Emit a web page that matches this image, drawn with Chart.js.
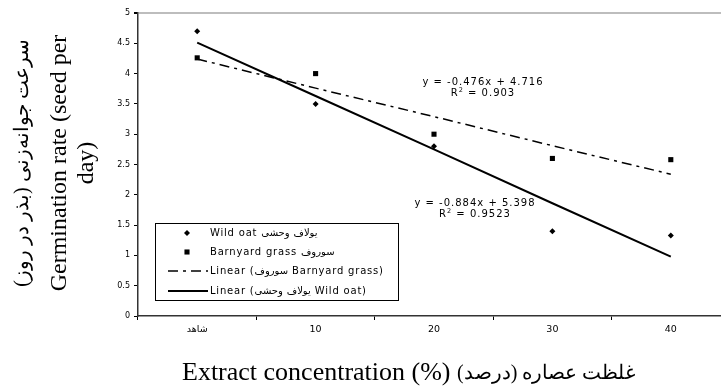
<!DOCTYPE html>
<html lang="fa">
<head>
<meta charset="UTF-8">
<title>Germination rate</title>
<script src="https://cdn.jsdelivr.net/npm/chart.js"></script>
<style>
  html, body { margin: 0; padding: 0; background: #fff; overflow: hidden; }
  #wrap { width: 734px; height: 389px; }
</style>
</head>
<body>
<div id="wrap"><canvas id="chart" width="734" height="389"></canvas></div>
<script>
// data
const categories = ['شاهد', '10', '20', '30', '40'];
const wildOat = [4.7, 3.5, 2.8, 1.4, 1.33];
const barnyard = [4.26, 4.0, 3.0, 2.6, 2.58];
// trend lines as drawn (Excel linear fits)
const barnyardTrend = [4.24, 3.76, 3.29, 2.81, 2.34];
const wildOatTrend = [4.51, 3.63, 2.75, 1.86, 0.98];

const seriesLabels = [
  'Wild oat یولاف وحشی',
  'Barnyard grass سوروف',
  'Linear (سوروف Barnyard grass)',
  'Linear (یولاف وحشی Wild oat)'
];
const equations = [
  { eq: 'y = -0.476x + 4.716', r2: '0.903', x: 483, y: 82 },
  { eq: 'y = -0.884x + 5.398', r2: '0.9523', x: 475, y: 203 }
];
const yTitle = ['سرعت جوانه‌زنی (بذر در روز)', 'Germination rate (seed per', 'day)'];
const xTitleEn = 'Extract concentration (%)';
const xTitleFa = 'غلظت عصاره (درصد)';

const smallFont = '"DejaVu Sans", Arial, sans-serif';
const serifFont = '"Liberation Serif", "Times New Roman", serif';

// legend box inside the plot, like the Excel original
const boxLegend = {
  id: 'boxLegend',
  afterDraw(chart) {
    const ctx = chart.ctx;
    const x0 = 155, y0 = 223, w = 243, h = 77;
    const rows = [233, 252, 271, 291];
    ctx.save();
    ctx.fillStyle = '#fff';
    ctx.fillRect(x0, y0, w, h);
    ctx.strokeStyle = '#000';
    ctx.lineWidth = 1;
    ctx.strokeRect(x0 + 0.5, y0 + 0.5, w, h);
    chart.data.datasets.forEach((ds, i) => {
      const y = rows[i];
      ctx.fillStyle = '#000';
      ctx.strokeStyle = '#000';
      if (ds.showLine === false) {
        const r = ds.pointRadius;
        ctx.beginPath();
        if (ds.pointStyle === 'rectRot') {
          ctx.moveTo(187 - r, y); ctx.lineTo(187, y - r);
          ctx.lineTo(187 + r, y); ctx.lineTo(187, y + r);
        } else {
          const s = r * Math.SQRT1_2;
          ctx.rect(187 - s, y - s, 2 * s, 2 * s);
        }
        ctx.closePath();
        ctx.fill();
      } else {
        ctx.lineWidth = ds.borderWidth;
        ctx.setLineDash(ds.borderDash || []);
        ctx.beginPath();
        ctx.moveTo(168, y); ctx.lineTo(208, y);
        ctx.stroke();
        ctx.setLineDash([]);
      }
      ctx.font = '10px ' + smallFont;
      ctx.letterSpacing = '0.8px';
      ctx.textBaseline = 'middle';
      ctx.textAlign = 'left';
      ctx.direction = 'ltr';
      ctx.fillText(ds.label, 210, y);
    });
    ctx.restore();
  }
};

// trend equations and axis titles
const annotations = {
  id: 'annotations',
  afterDraw(chart) {
    const ctx = chart.ctx;
    ctx.save();
    ctx.fillStyle = '#000';
    ctx.textBaseline = 'middle';
    ctx.direction = 'ltr';
    ctx.letterSpacing = '1px';
    equations.forEach(e => {
      ctx.font = '10px ' + smallFont;
      ctx.textAlign = 'center';
      ctx.fillText(e.eq, e.x, e.y);
      const a = 'R', b = ' = ' + e.r2;
      const wa = ctx.measureText(a).width, wb = ctx.measureText(b).width;
      ctx.font = '6.5px ' + smallFont;
      const ws = ctx.measureText('2').width;
      const sx = e.x - (wa + ws + wb) / 2;
      ctx.textAlign = 'left';
      ctx.font = '10px ' + smallFont;
      ctx.fillText(a, sx, e.y + 11);
      ctx.font = '6.5px ' + smallFont;
      ctx.fillText('2', sx + wa, e.y + 8);
      ctx.font = '10px ' + smallFont;
      ctx.fillText(b, sx + wa + ws, e.y + 11);
    });
    ctx.letterSpacing = '0px';
    // y title, rotated
    ctx.textAlign = 'center';
    const cols = [23, 60, 87];
    const sizes = [20, 24, 24];
    yTitle.forEach((t, i) => {
      ctx.save();
      ctx.font = sizes[i] + 'px ' + serifFont;
      ctx.translate(cols[i], 163);
      ctx.rotate(-Math.PI / 2);
      ctx.fillText(t, 0, 0);
      ctx.restore();
    });
    // x title: English part then Persian part
    ctx.textAlign = 'left';
    ctx.font = '26px ' + serifFont;
    const wEn = ctx.measureText(xTitleEn + ' ').width;
    ctx.fillText(xTitleEn + ' ', 182, 373);
    ctx.font = '20px ' + serifFont;
    ctx.fillText(xTitleFa, 182 + wEn, 374);
    ctx.restore();
  }
};

new Chart(document.getElementById('chart'), {
  type: 'line',
  data: {
    labels: categories,
    datasets: [
      { label: seriesLabels[0], data: wildOat, showLine: false, pointStyle: 'rectRot',
        pointRadius: 3, backgroundColor: '#000', borderColor: '#000', pointBorderWidth: 0 },
      { label: seriesLabels[1], data: barnyard, showLine: false, pointStyle: 'rect',
        pointRadius: 3.6, backgroundColor: '#000', borderColor: '#000', pointBorderWidth: 0 },
      { label: seriesLabels[2], data: barnyardTrend, borderColor: '#000', borderWidth: 1.5,
        borderDash: [10, 5, 3, 5], pointRadius: 0, fill: false, tension: 0 },
      { label: seriesLabels[3], data: wildOatTrend, borderColor: '#000', borderWidth: 2,
        pointRadius: 0, fill: false, tension: 0 }
    ]
  },
  options: {
    responsive: false,
    animation: false,
    devicePixelRatio: 1,
    layout: { padding: { left: 0, top: 13, right: 2, bottom: 0 } },
    plugins: { legend: { display: false }, tooltip: { enabled: false } },
    scales: {
      x: {
        offset: true,
        grid: { offset: true, drawOnChartArea: false, color: '#000', tickLength: 4 },
        border: { color: '#333', width: 1.5 },
        ticks: { color: '#000', font: { family: smallFont, size: 9.5 }, padding: 4 },
        afterFit: s => { s.height = 73; }
      },
      y: {
        min: 0, max: 5,
        grid: {
          color: c => c.tick && c.tick.value === 5 ? '#bdbdbd' : 'transparent',
          lineWidth: c => c.tick && c.tick.value === 5 ? 2 : 1,
          tickColor: '#000', tickLength: 4
        },
        border: { color: '#333', width: 1.5 },
        ticks: { stepSize: 0.5, color: '#000', font: { family: smallFont, size: 8 }, padding: 4,
          callback: v => String(v) },
        afterFit: s => { s.width = 138; }
      }
    }
  },
  plugins: [boxLegend, annotations]
});
</script>
</body>
</html>
